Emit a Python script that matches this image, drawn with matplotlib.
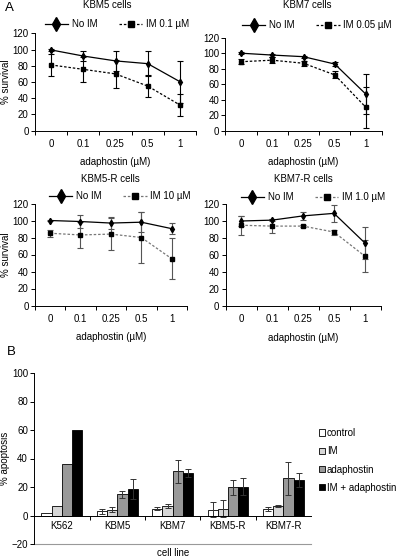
import numpy as np
import matplotlib
matplotlib.use("Agg")
import matplotlib.pyplot as plt
from matplotlib.lines import Line2D
from matplotlib.patches import Patch

plt.rcParams['font.family'] = ['Liberation Sans', 'DejaVu Sans']
plt.rcParams['font.size'] = 7

# --- données panneau A ---
doses = ['0', '0.1', '0.25', '0.5', '1']

kbm5_noim = [99.5, 92, 86, 82.6, 60.4]
kbm5_noim_err = [1, 6, 12, 15, 26]
kbm5_im = [81, 75.6, 70, 55, 31.7]
kbm5_im_err = [14, 15, 17, 14, 14]

kbm7_noim = [100, 97.6, 95.5, 86, 47]
kbm7_noim_err = [1, 2, 1.5, 3, 26]
kbm7_im = [89, 91, 87, 72, 30]
kbm7_im_err = [3, 4, 3, 4.5, 27]

kbm5r_noim = [100, 98.8, 97, 98, 90.4]
kbm5r_noim_err = [0.5, 8, 7, 12, 6.5]
kbm5r_im = [85, 83, 84, 80, 55]
kbm5r_im_err = [4, 15, 19, 30, 24]

kbm7r_noim = [100, 101, 106, 109, 74]
kbm7r_noim_err = [5.5, 1, 5, 10, 19]
kbm7r_im = [95, 94, 94, 87, 58.5]
kbm7r_im_err = [11, 8.5, 1, 3, 19]

# --- données panneau B ---
cell_lines = ['K562', 'KBM5', 'KBM7', 'KBM5-R', 'KBM7-R']
control = [2.1, 3, 4.9, 4.2, 4.5]
control_err = [0, 1.6, 1, 5.4, 1.2]
im = [6.6, 4, 6.8, 4.9, 6.6]
im_err = [0, 1.8, 1.6, 6.3, 0.5]
adaph = [35.9, 14.8, 31, 19.7, 26]
adaph_err = [0, 2.2, 8, 5.2, 11.3]
im_adaph = [59.9, 18.5, 29.8, 20.2, 24.9]
im_adaph_err = [0, 6.8, 2.8, 5.9, 5.2]

W, H = 400, 557
fig = plt.figure(figsize=(4.0, 5.57), dpi=100)


def px_axes(left, right, top, bottom):
    return fig.add_axes([left / W, 1 - bottom / H, (right - left) / W, (bottom - top) / H])


def survival_panel(ax, noim, noim_err, imv, imv_err, im_label, title, tx, ty, ly,
                   im_color, err_color, ylabel):
    x = np.arange(len(doses))
    ax.errorbar(x, noim, yerr=noim_err, color='black', lw=0.9, marker='d', ms=3.2,
                ecolor=err_color, elinewidth=0.8, capsize=2.5, capthick=0.8)
    ax.errorbar(x, imv, yerr=imv_err, color=im_color, lw=0.9, ls=(0, (2, 1.5)),
                marker='s', ms=3.2, mfc='black', mec='black',
                ecolor=err_color, elinewidth=0.8, capsize=2.5, capthick=0.8)
    ax.set_xlim(-0.5, len(doses) - 0.5)
    ax.set_ylim(0, 120)
    ax.set_yticks(range(0, 121, 20))
    ax.set_xticks(x)
    ax.set_xticklabels(doses)
    ax.set_xticks(np.arange(-0.5, len(doses)), minor=True)
    ax.tick_params(axis='x', which='major', length=0, pad=6)
    ax.tick_params(axis='x', which='minor', length=3, width=0.7)
    ax.tick_params(axis='y', length=3, width=0.7, pad=1.5)
    for s in ['top', 'right']:
        ax.spines[s].set_visible(False)
    for s in ['left', 'bottom']:
        ax.spines[s].set_linewidth(0.7)
    ax.set_xlabel('adaphostin (µM)', labelpad=6)
    if ylabel:
        ax.set_ylabel('% survival', labelpad=1)
    fig.text(tx / W, 1 - ty / H, title, ha='center', va='center')
    handles = [
        Line2D([], [], color='black', lw=0.9, marker='d', ms=7),
        Line2D([], [], color=im_color, lw=0.9, ls=(0, (2, 1.5)), marker='s', ms=5,
               mfc='black', mec='black'),
    ]
    fig.legend(handles, ['No IM', im_label], ncol=2, frameon=False,
               loc='center', bbox_to_anchor=((tx + 10) / W, 1 - ly / H),
               handlelength=2.4, columnspacing=2.2, handletextpad=0.4)


ax1 = px_axes(35, 196, 33.3, 130.7)
survival_panel(ax1, kbm5_noim, kbm5_noim_err, kbm5_im, kbm5_im_err, 'IM 0.1 µM',
               'KBM5 cells', 107, 5, 24, 'black', 'black', True)
ax2 = px_axes(225.4, 381.6, 37.7, 130.7)
survival_panel(ax2, kbm7_noim, kbm7_noim_err, kbm7_im, kbm7_im_err, 'IM 0.05 µM',
               'KBM7 cells', 307, 5, 25, 'black', 'black', False)
ax3 = px_axes(34.8, 187, 203.5, 305.5)
survival_panel(ax3, kbm5r_noim, kbm5r_noim_err, kbm5r_im, kbm5r_im_err, 'IM 10 µM',
               'KBM5-R cells', 110, 179, 196, '#777777', '#555555', True)
ax4 = px_axes(225.5, 380.5, 204, 306)
survival_panel(ax4, kbm7r_noim, kbm7r_noim_err, kbm7r_im, kbm7r_im_err, 'IM 1.0 µM',
               'KBM7-R cells', 303, 179, 197, '#777777', '#555555', False)

fig.text(5 / W, 1 - 8 / H, 'A', fontsize=9.5, ha='left', va='center')
fig.text(7 / W, 1 - 352 / H, 'B', fontsize=9.5, ha='left', va='center')

# --- panneau B : barres ---
axb = px_axes(34.3, 311, 373, 544)
xb = np.arange(len(cell_lines))
bw = 0.185
series = [
    (control, control_err, 'white', 'control'),
    (im, im_err, '#d6d6d6', 'IM'),
    (adaph, adaph_err, '#999999', 'adaphostin'),
    (im_adaph, im_adaph_err, 'black', 'IM + adaphostin'),
]
for i, (vals, errs, col, lab) in enumerate(series):
    pos = xb + (i - 1.5) * bw
    axb.bar(pos, vals, width=bw, color=col, edgecolor='black', linewidth=0.6, label=lab)
    axb.errorbar(pos[1:], vals[1:], yerr=errs[1:], fmt='none', ecolor='#333333',
                 elinewidth=0.7, capsize=2.2, capthick=0.7)

axb.set_xlim(-0.5, len(cell_lines) - 0.5)
axb.set_ylim(-20, 100)
axb.set_yticks(range(-20, 101, 20))
axb.set_yticklabels(['\u221220'] + [str(v) for v in range(0, 101, 20)])
axb.spines['bottom'].set_position(('data', 0))
axb.spines['bottom'].set_linewidth(0.7)
axb.spines['left'].set_linewidth(0.7)
axb.spines['top'].set_visible(False)
axb.spines['right'].set_visible(False)
axb.axhline(-20, color='#999999', lw=0.8, clip_on=False)
axb.set_xticks(xb)
axb.set_xticklabels(cell_lines)
axb.set_xticks(np.arange(0.5, len(cell_lines) - 0.5), minor=True)
axb.tick_params(axis='x', which='major', length=0, pad=4)
axb.tick_params(axis='x', which='minor', length=3, width=0.7)
axb.tick_params(axis='y', length=3, width=0.7, pad=1.5)
axb.set_ylabel('% apoptosis', labelpad=1)
axb.set_xlabel('cell line')
axb.xaxis.set_label_coords(0.5, -0.022)

handles_b = [Patch(facecolor=c, edgecolor='black', linewidth=0.6) for _, _, c, _ in series]
fig.legend(handles_b, [s[3] for s in series], loc='upper left', frameon=False,
           bbox_to_anchor=(319 / W, 1 - 428 / H), handlelength=0.6, handleheight=0.6,
           handletextpad=0.2, labelspacing=0.85, borderaxespad=0, borderpad=0)

fig.savefig('out.png', dpi=100)
